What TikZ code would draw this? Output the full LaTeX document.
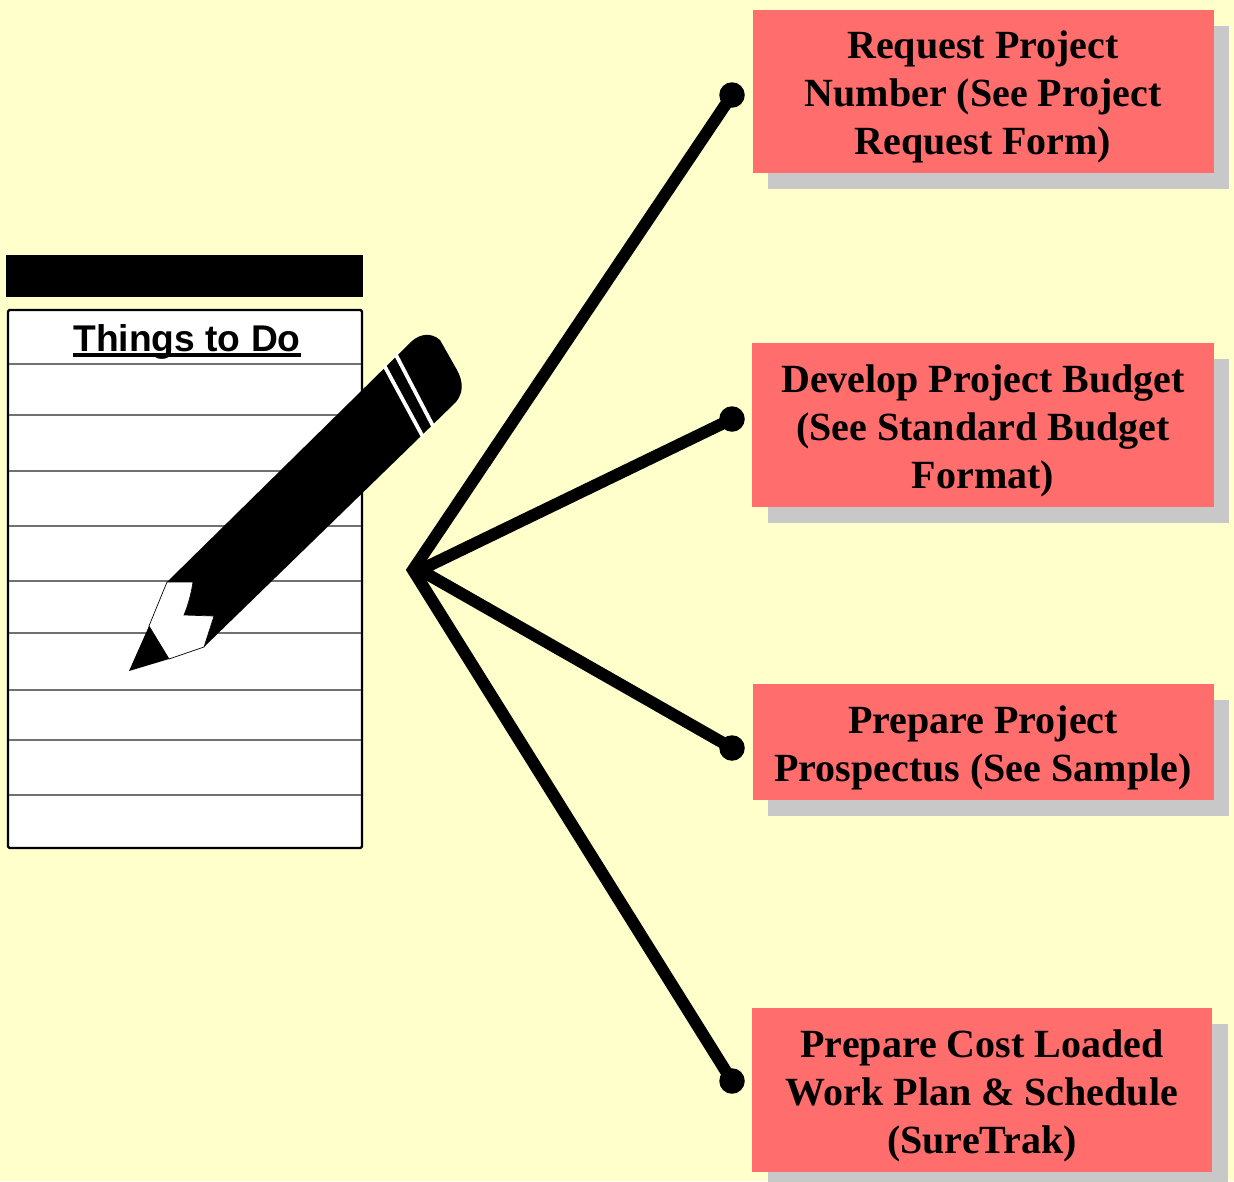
\documentclass[tikz,border=0pt]{standalone}
\usepackage{fontspec}
\setmainfont{Liberation Serif}
\newfontfamily\labelsans{Liberation Sans}
\definecolor{pagebg}{HTML}{FFFFCC}
\definecolor{boxred}{HTML}{FF6D6D}
\definecolor{boxshadow}{HTML}{C8C8C8}
\definecolor{ruleline}{HTML}{707070}
\newcommand{\tasktext}[1]{\raisebox{-12pt}[0pt][0pt]{\parbox{450pt}{\centering #1}}}
\tikzset{
  task/.style={fill=boxred,inner sep=0pt,align=center,font=\fontsize{40}{48}\selectfont\bfseries},
  shadowbox/.style={fill=boxshadow},
  enddot/.style={circle,fill=black,inner sep=0pt,minimum size=25.5pt},
  spoke/.style={line width=12pt,black,line cap=butt,line join=miter,miter limit=10},
  padrule/.style={line width=1.2pt,ruleline},
  pencilbody/.style={fill=black},
  stripe/.style={draw=white,line width=3.8pt}
}
\begin{document}
\begin{tikzpicture}[x=1pt,y=-1pt]
\useasboundingbox (0,0) rectangle (1234,1181);
\clip (0,0) rectangle (1234,1181);
\fill[pagebg] (0,0) rectangle (1234,1181);
% notepad
\fill[black] (6,255) rectangle (363,297);
\draw[fill=white,line width=2.4pt,rounded corners=1.5pt] (8,310) rectangle (362,848);
\foreach \yy in {364,415,471,526,581,633,690,740,795}
  \draw[padrule] (9,\yy) -- (361,\yy);
\node[anchor=base,inner sep=0pt,font=\labelsans\fontsize{37.2}{40}\selectfont\bfseries] (todo) at (187,351) {Things to Do};
\draw[line width=3.8pt] ([yshift=-4pt]todo.base west) -- ([yshift=-4pt]todo.base east);
% pencil
\path[pencilbody] (167,582) -- (412,341) .. controls (420,334) and (431,332) .. (440,340)
  -- (457,370) .. controls (463,381) and (464,392) .. (456,402)
  -- (204,647) -- (214,616) -- (184,615) .. controls (188,605) and (191,595) .. (193,582) -- cycle;
\draw[fill=white,line width=.7pt] (167,582) -- (193,582) .. controls (191,595) and (188,605) .. (184,615)
  -- (214,616) -- (204,647) -- (169,659) -- (149,626) -- cycle;
\path[pencilbody] (129,671) -- (149,626) -- (169,659) -- cycle;
\draw[stripe] (384,365) -- (423,437);
\draw[stripe] (395,353) -- (433,426);
% shadows
\fill[shadowbox] (768,26) rectangle (1229,189);
\fill[shadowbox] (768,359) rectangle (1229,523);
\fill[shadowbox] (768,700) rectangle (1229,816);
\fill[shadowbox] (768,1024) rectangle (1228,1188);
% boxes
\node[task,minimum width=461pt,minimum height=163pt] (t1) at (983,91.5) {\tasktext{Request Project\\Number (See Project\\Request Form)}};
\node[task,minimum width=462pt,minimum height=164pt] (t2) at (983,425) {\tasktext{Develop Project Budget\\(See Standard Budget\\Format)}};
\node[task,minimum width=461pt,minimum height=116pt] (t3) at (983,742) {\tasktext{Prepare Project\\Prospectus (See Sample)}};
\node[task,minimum width=460pt,minimum height=164pt] (t4) at (982,1090) {\tasktext{Prepare Cost Loaded\\Work Plan \& Schedule\\(SureTrak)}};
% connectors
\coordinate (hub) at (413,570);
\coordinate (hubin) at (420,570);
\node[enddot] (d1) at (732,95) {};
\node[enddot] (d2) at (732,419) {};
\node[enddot] (d3) at (732,748) {};
\node[enddot] (d4) at (732,1081) {};
\draw[spoke] (d2.center) -- (hubin) -- (d3.center);
\draw[spoke] (d1.center) -- (hub) -- (d4.center);
\end{tikzpicture}
\end{document}
